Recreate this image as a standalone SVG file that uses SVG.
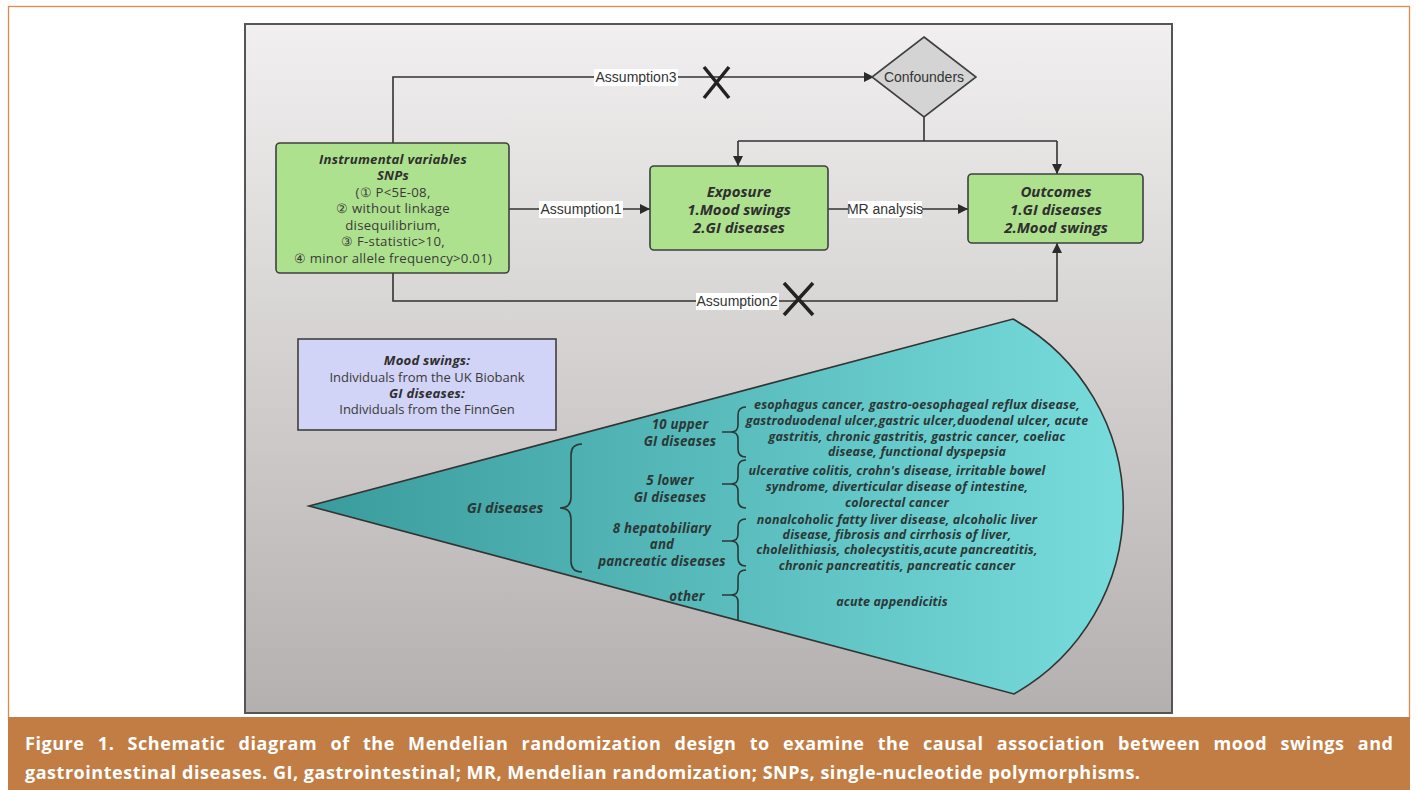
<svg xmlns="http://www.w3.org/2000/svg" width="1417" height="790" viewBox="0 0 1417 790">
<defs>
<linearGradient id="panelGrad" x1="0" y1="0" x2="0" y2="1">
<stop offset="0" stop-color="#F1EFEF"/>
<stop offset="1" stop-color="#B5B0B0"/>
</linearGradient>
<linearGradient id="fanGrad" gradientUnits="userSpaceOnUse" x1="309" y1="0" x2="1123" y2="0">
<stop offset="0" stop-color="#399B9B"/>
<stop offset="1" stop-color="#79DCDC"/>
</linearGradient>
<marker id="arrow" viewBox="0 0 10 10" refX="10" refY="5" markerWidth="10" markerHeight="10" markerUnits="userSpaceOnUse" orient="auto">
<path d="M0,0 L10,5 L0,10 Z" fill="#2b2b2b"/>
</marker>
<style>
.box{fill:#AEE18E;stroke:#3f3f3f;stroke-width:1.6}
.conn{fill:none;stroke:#333;stroke-width:1.6}
.lblbg{fill:#ffffff}
.lbl{font-family:"Liberation Sans",Arial,sans-serif;font-size:14px;fill:#333;text-anchor:middle}
.nb{font-family:"Open Sans","Noto Sans",sans-serif;font-size:14px;font-weight:bold;font-style:italic;fill:#2f2f2f;text-anchor:middle}
.nt{font-family:"Open Sans","Noto Sans",sans-serif;font-size:14px;fill:#3a3a3a;text-anchor:middle}
.iv{font-size:13.2px;letter-spacing:0.25px}
.lg{font-size:13.2px;letter-spacing:0.2px}
.xm{stroke:#222;stroke-width:3.5;stroke-linecap:butt}
.ft{font-family:"Open Sans","Noto Sans",sans-serif;font-weight:bold;font-style:italic;fill:#2b3838;text-anchor:middle}
.fl{font-size:12.5px;letter-spacing:0.15px}
.fg{font-size:13.3px;letter-spacing:0.2px}
.brace{fill:none;stroke:#2b3838;stroke-width:1.6}
.cap{font-family:"Open Sans","Noto Sans",sans-serif;font-weight:bold;font-size:18px;fill:#ffffff}
</style>
</defs>

<rect x="8.5" y="6.5" width="1401" height="712" fill="#ffffff" stroke="#E0894A" stroke-width="1.3"/>
<rect x="8" y="717" width="1402" height="73" fill="#C17D44"/>
<rect x="245" y="24" width="927" height="689" fill="url(#panelGrad)" stroke="#555" stroke-width="2"/>

<g id="connectors">
<path class="conn" d="M393,143 V77 H874" marker-end="url(#arrow)"/>
<path class="conn" d="M924,117 V141 M738,141 H1057" />
<path class="conn" d="M738,141 V166" marker-end="url(#arrow)"/>
<path class="conn" d="M1057,141 V174" marker-end="url(#arrow)"/>
<path class="conn" d="M509,209 H650" marker-end="url(#arrow)"/>
<path class="conn" d="M828,209 H968" marker-end="url(#arrow)"/>
<path class="conn" d="M393,273 V301 H1057 V243" marker-end="url(#arrow)"/>
<rect class="lblbg" x="594" y="69" width="84" height="17"/>
<text class="lbl" x="636" y="82">Assumption3</text>
<rect class="lblbg" x="539" y="201" width="84" height="17"/>
<text class="lbl" x="581" y="214">Assumption1</text>
<rect class="lblbg" x="848" y="201" width="74" height="17"/>
<text class="lbl" x="885" y="214">MR analysis</text>
<rect class="lblbg" x="696" y="293" width="83" height="17"/>
<text class="lbl" x="737" y="306">Assumption2</text>
<path class="xm" d="M704,67 L729,98 M729,67 L704,98"/>
<path class="xm" d="M784,283 L813,315 M813,283 L784,315"/>
</g>

<g id="confounders">
<polygon points="924,37 976,77 924,117 872,77" fill="#D4D4D4" stroke="#3f3f3f" stroke-width="1.6"/>
<text class="lbl" x="924" y="82">Confounders</text>
</g>

<g id="instrumental">
<rect class="box" x="276" y="143" width="233" height="130" rx="4"/>
<text class="nb iv" x="393" y="164">Instrumental variables</text>
<text class="nb iv" x="393" y="180">SNPs</text>
<text class="nt iv" x="393" y="197">(① P&lt;5E-08,</text>
<text class="nt iv" x="393" y="213">② without linkage</text>
<text class="nt iv" x="393" y="230">disequilibrium,</text>
<text class="nt iv" x="393" y="246">③ F-statistic&gt;10,</text>
<text class="nt iv" x="393" y="263">④ minor allele frequency&gt;0.01)</text>
</g>

<g id="exposure">
<rect class="box" x="650" y="166" width="178" height="84" rx="4"/>
<text class="nb" x="739" y="197" style="font-size:15px">Exposure</text>
<text class="nb" x="739" y="215" style="font-size:15px">1.Mood swings</text>
<text class="nb" x="739" y="233" style="font-size:15px">2.GI diseases</text>
</g>

<g id="outcomes">
<rect class="box" x="968" y="174" width="175" height="69" rx="4"/>
<text class="nb" x="1056" y="197" style="font-size:15px">Outcomes</text>
<text class="nb" x="1056" y="215" style="font-size:15px">1.GI diseases</text>
<text class="nb" x="1056" y="233" style="font-size:15px">2.Mood swings</text>
</g>

<g id="legend">
<rect x="298" y="339" width="258" height="91" fill="#D1D3F7" stroke="#3f3f3f" stroke-width="1.6"/>
<text class="nb lg" x="427" y="365">Mood swings:</text>
<text class="nt" x="427" y="382" style="font-size:13px">Individuals from the UK Biobank</text>
<text class="nb lg" x="427" y="398">GI diseases:</text>
<text class="nt" x="427" y="414" style="font-size:13px">Individuals from the FinnGen</text>
</g>

<g id="fan">
<path d="M309,506 L1013,319 A215,215 0 0,1 1014,694 Z" fill="url(#fanGrad)" stroke="#333" stroke-width="1.6" stroke-linejoin="miter"/>
<text class="ft" x="505" y="513" style="font-size:14.5px">GI diseases</text>
<path class="brace" d="M582,444 Q571,444 571,455 L571,497 Q571,508 560,508 Q571,508 571,519 L571,561 Q571,572 582,572"/>

<text class="ft fg" x="680" y="429">10 upper</text>
<text class="ft fg" x="680" y="446">GI diseases</text>
<text class="ft fg" x="670" y="485">5 lower</text>
<text class="ft fg" x="670" y="502">GI diseases</text>
<text class="ft fg" x="662" y="533">8 hepatobiliary</text>
<text class="ft fg" x="662" y="549">and</text>
<text class="ft fg" x="662" y="566">pancreatic diseases</text>
<text class="ft fg" x="687" y="601">other</text>

<path class="brace" d="M746,407 Q738,407 738,415 L738,425 Q738,432 731,432 L722,432 M731,432 Q738,432 738,439 L738,449 Q738,457 746,457"/>
<path class="brace" d="M746,460 Q738,460 738,468 L738,477 Q738,484 731,484 L722,484 M731,484 Q738,484 738,491 L738,500 Q738,508 746,508"/>
<path class="brace" d="M746,519 Q738,519 738,527 L738,534 Q738,541 731,541 L722,541 M731,541 Q738,541 738,548 L738,558 Q738,566 746,566"/>
<path class="brace" d="M746,570 Q738,570 738,578 L738,588 Q738,595 731,595 L722,595 M731,595 Q738,595 738,602 L738,621"/>

<text class="ft fl" x="917" y="409">esophagus cancer, gastro-oesophageal reflux disease,</text>
<text class="ft fl" x="917" y="425">gastroduodenal ulcer,gastric ulcer,duodenal ulcer, acute</text>
<text class="ft fl" x="917" y="441">gastritis, chronic gastritis, gastric cancer, coeliac</text>
<text class="ft fl" x="917" y="456">disease, functional dyspepsia</text>
<text class="ft fl" x="897" y="475">ulcerative colitis, crohn's disease, irritable bowel</text>
<text class="ft fl" x="897" y="491">syndrome, diverticular disease of intestine,</text>
<text class="ft fl" x="897" y="507">colorectal cancer</text>
<text class="ft fl" x="897" y="524">nonalcoholic fatty liver disease, alcoholic liver</text>
<text class="ft fl" x="897" y="539">disease, fibrosis and cirrhosis of liver,</text>
<text class="ft fl" x="897" y="554">cholelithiasis, cholecystitis,acute pancreatitis,</text>
<text class="ft fl" x="897" y="570">chronic pancreatitis, pancreatic cancer</text>
<text class="ft fl" x="892" y="606">acute appendicitis</text>
</g>

<g id="caption">
<text class="cap" x="25" y="750" word-spacing="8" textLength="1368" lengthAdjust="spacing">Figure 1. Schematic diagram of the Mendelian randomization design to examine the causal association between mood swings and</text>
<text class="cap" x="25" y="779" textLength="1115" lengthAdjust="spacing">gastrointestinal diseases. GI, gastrointestinal; MR, Mendelian randomization; SNPs, single-nucleotide polymorphisms.</text>
</g>
</svg>
